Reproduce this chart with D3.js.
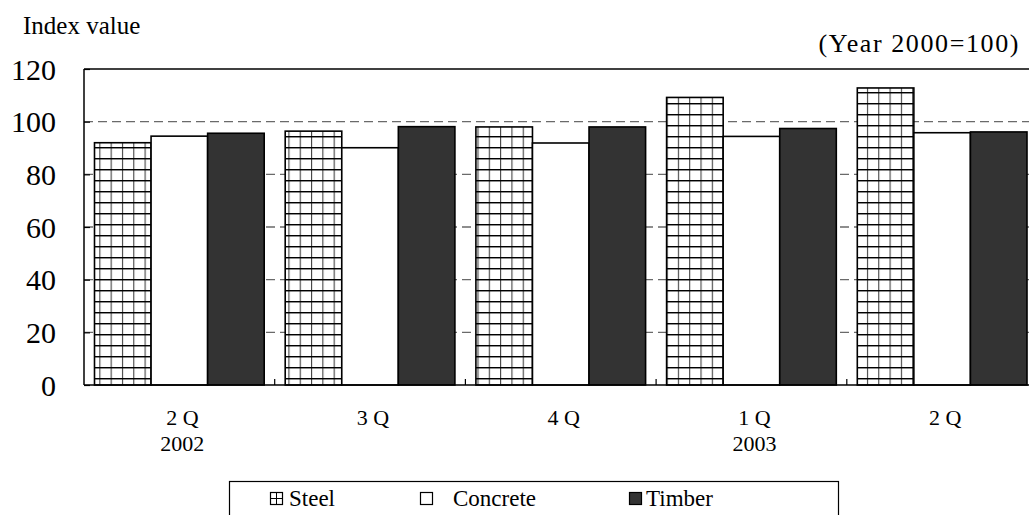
<!DOCTYPE html>
<html><head><meta charset="utf-8">
<script src="https://cdn.jsdelivr.net/npm/d3@7"></script>
<style>
html,body{margin:0;padding:0;background:#fff;}
svg{display:block;font-family:"Liberation Serif","Times New Roman",serif;}
</style></head>
<body>
<svg id="c" width="1029" height="515"></svg>
<script>
const categories = ["2 Q", "3 Q", "4 Q", "1 Q", "2 Q "];
const yearLabels = ["2002", "", "", "2003", ""];
const seriesNames = ["Steel", "Concrete", "Timber"];
const steel = [92.0, 96.4, 98.0, 109.2, 112.8];
const concrete = [94.5, 90.1, 91.9, 94.4, 95.8];
const timber = [95.6, 98.1, 98.0, 97.4, 96.1];
const yTicks = [0, 20, 40, 60, 80, 100, 120];

const values = [steel, concrete, timber];
const svg = d3.select("#c");
const pLeft = 84, pRight = 1037.5, pTop = 69, pBottom = 385;

const y = d3.scaleLinear().domain([0, 120]).range([pBottom, pTop]);
const x0 = d3.scaleBand().domain(categories).range([pLeft, pRight]).padding(0);
const pad = 10.5;
const x1 = d3.scaleBand().domain(seriesNames).range([pad, x0.bandwidth() - pad]).padding(0);

const defs = svg.append("defs");
categories.forEach((c, i) => {
  const bx = x0(c) + x1("Steel");
  const pw = x1.bandwidth() / 5;
  const p = defs.append("pattern").attr("id", "steelpat" + i)
    .attr("patternUnits", "userSpaceOnUse")
    .attr("x", bx).attr("y", 4).attr("width", pw).attr("height", 11);
  p.append("rect").attr("width", pw).attr("height", 11).attr("fill", "#fff");
  p.append("line").attr("x1", 0.5).attr("x2", 0.5).attr("y1", 0).attr("y2", 11)
    .attr("stroke", "#444").attr("stroke-width", 1.2);
  p.append("line").attr("x1", 0).attr("x2", pw).attr("y1", 0.7).attr("y2", 0.7)
    .attr("stroke", "#000").attr("stroke-width", 1.5);
});

// gridlines
svg.append("g").selectAll("line").data(yTicks.filter(t => t > 0 && t < 120)).join("line")
  .attr("x1", pLeft).attr("x2", pRight)
  .attr("y1", d => y(d)).attr("y2", d => y(d))
  .attr("stroke", "#6a6a6a").attr("stroke-width", 1.3).attr("stroke-dasharray", "9,5");

// bars
const fills = ["steel", "#fff", "#333"];
categories.forEach((c, i) => {
  const g = svg.append("g").attr("transform", `translate(${x0(c)},0)`);
  seriesNames.forEach((s, j) => {
    const v = values[j][i];
    g.append("rect")
      .attr("x", x1(s)).attr("width", x1.bandwidth())
      .attr("y", y(v)).attr("height", y(0) - y(v))
      .attr("fill", j === 0 ? `url(#steelpat${i})` : fills[j])
      .attr("stroke", "#000").attr("stroke-width", 1.6);
  });
});

// frame
svg.append("line").attr("x1", pLeft).attr("x2", 1029).attr("y1", pTop).attr("y2", pTop).attr("stroke", "#000").attr("stroke-width", 1.5);
svg.append("line").attr("x1", pLeft).attr("x2", 1029).attr("y1", pBottom).attr("y2", pBottom).attr("stroke", "#000").attr("stroke-width", 1.5);
svg.append("line").attr("x1", pLeft).attr("x2", pLeft).attr("y1", pTop).attr("y2", pBottom).attr("stroke", "#000").attr("stroke-width", 1.5);

// y axis (inner ticks)
const yAxis = d3.axisLeft(y).tickValues(yTicks).tickSize(-6).tickPadding(28).tickFormat(d3.format("d"));
const ya = svg.append("g").attr("transform", `translate(${pLeft},0)`).call(yAxis);
ya.select(".domain").remove();
ya.selectAll(".tick line").attr("stroke", "#000").attr("stroke-width", 1.2);
ya.selectAll(".tick text").attr("font-size", 30).attr("font-family", "Liberation Serif").attr("fill", "#000")
  .attr("dy", "0.34em");

// x group separator ticks
svg.append("g").selectAll("line").data(categories.slice(1)).join("line")
  .attr("x1", d => x0(d)).attr("x2", d => x0(d))
  .attr("y1", pBottom).attr("y2", pBottom - 6)
  .attr("stroke", "#000").attr("stroke-width", 1.2);

// x labels
const xl = svg.append("g").attr("font-size", 22).attr("text-anchor", "middle").attr("fill", "#000");
categories.forEach((c, i) => {
  const cx = x0(c) + x0.bandwidth() / 2 + 3;
  xl.append("text").attr("x", cx).attr("y", 425).text(c.trim());
  if (yearLabels[i]) xl.append("text").attr("x", cx).attr("y", 451).text(yearLabels[i]);
});

// titles
svg.append("text").attr("x", 23).attr("y", 34).attr("font-size", 25).text("Index value");
svg.append("text").attr("x", 1020).attr("y", 52).attr("font-size", 26).attr("letter-spacing", 1.6)
  .attr("text-anchor", "end").text("(Year 2000=100)");

// legend
svg.append("rect").attr("x", 229.5).attr("y", 481.5).attr("width", 609).attr("height", 45)
  .attr("fill", "#fff").attr("stroke", "#000").attr("stroke-width", 1.2);
const legX = [270, 420, 629];
const legTX = [289, 453, 646];
seriesNames.forEach((s, j) => {
  const g = svg.append("g");
  g.append("rect").attr("x", legX[j] + 0.5).attr("y", 492.5).attr("width", 12).attr("height", 12)
    .attr("fill", j === 2 ? "#333" : "#fff").attr("stroke", "#000").attr("stroke-width", 1.2);
  if (j === 0) {
    g.append("line").attr("x1", legX[j] + 6.5).attr("x2", legX[j] + 6.5).attr("y1", 492.5).attr("y2", 504.5).attr("stroke", "#000");
    g.append("line").attr("x1", legX[j] + 0.5).attr("x2", legX[j] + 12.5).attr("y1", 498.5).attr("y2", 498.5).attr("stroke", "#000");
  }
  g.append("text").attr("x", legTX[j]).attr("y", 506).attr("font-size", 23).text(s);
});
</script>
</body></html>
